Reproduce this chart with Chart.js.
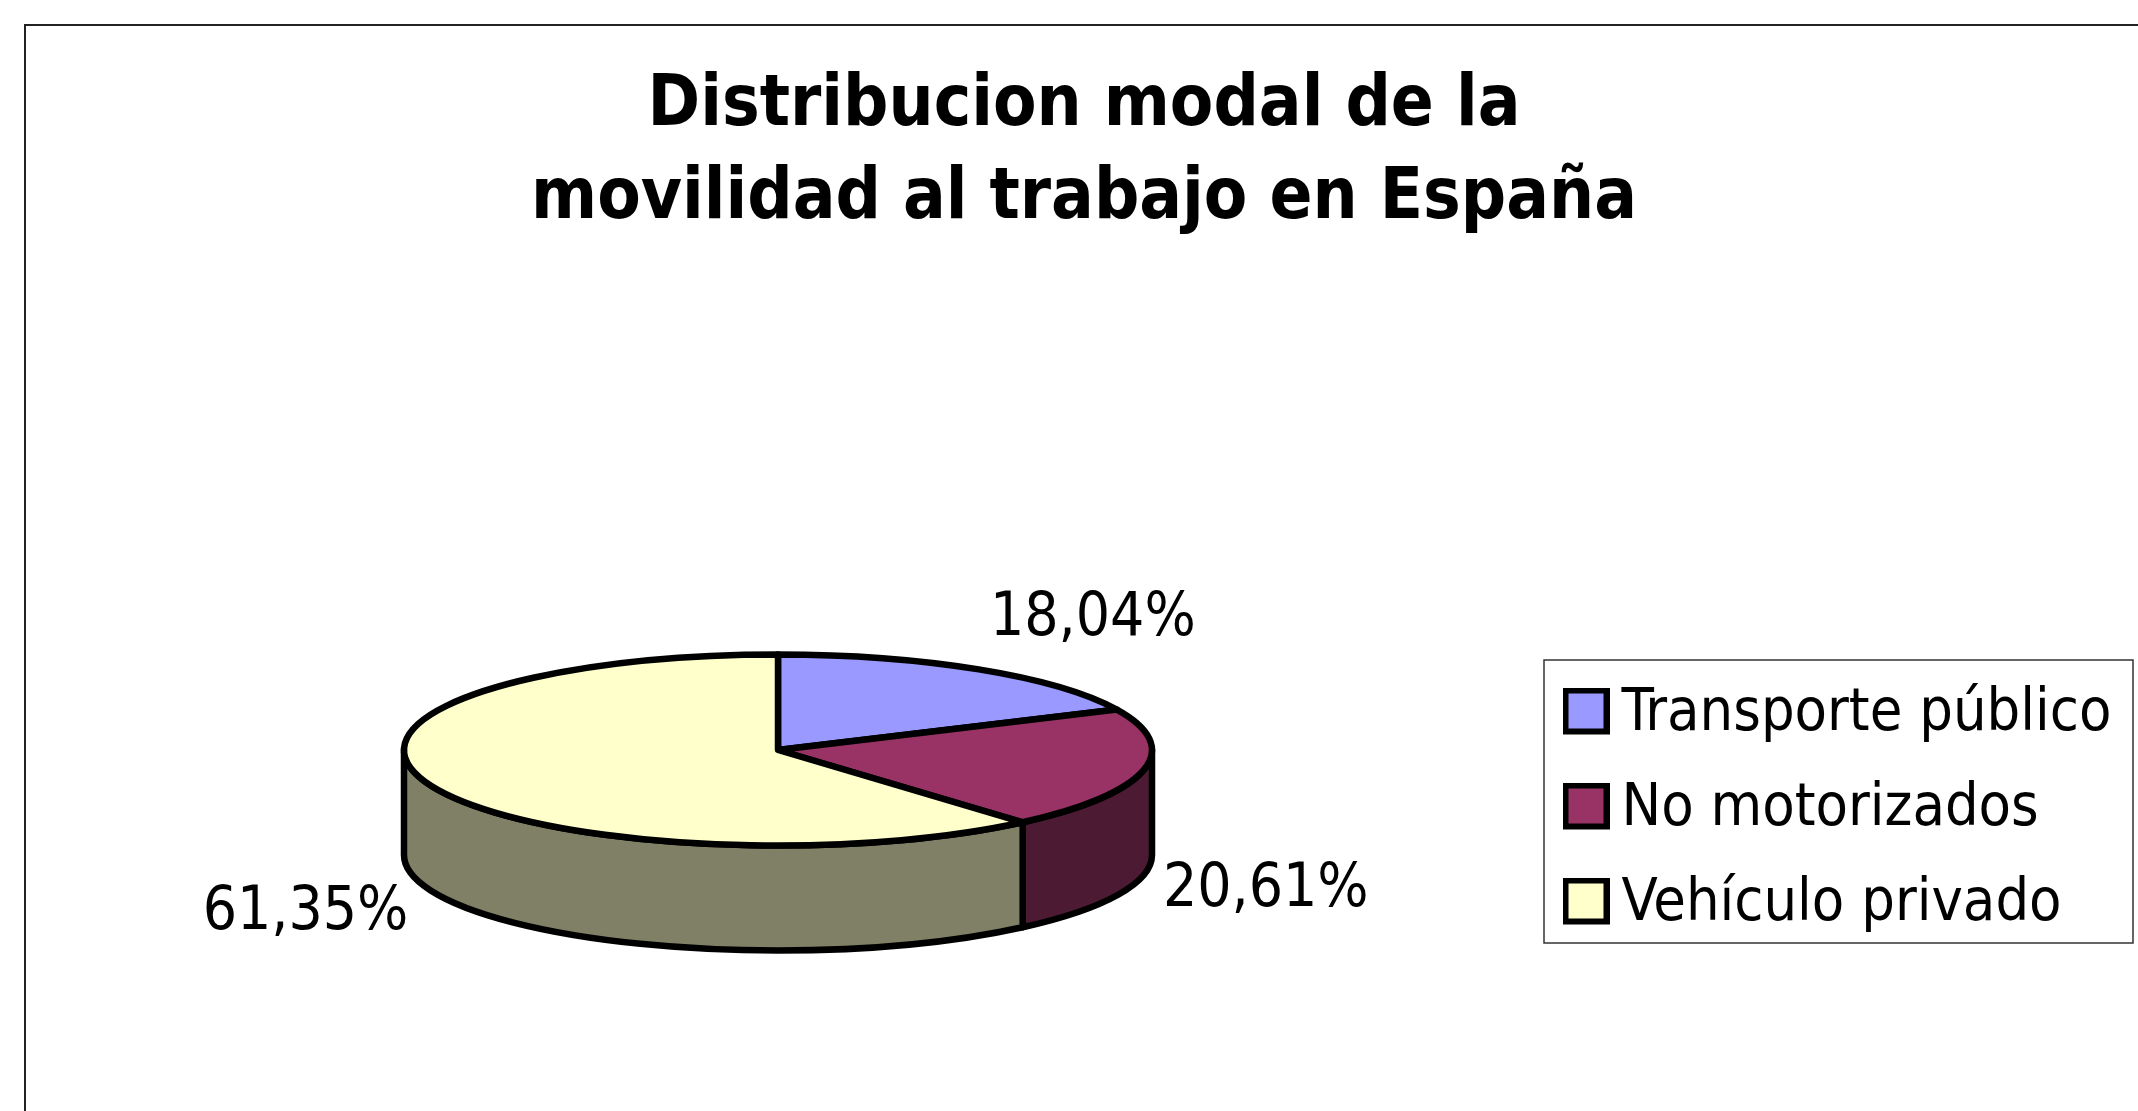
<!DOCTYPE html>
<html>
<head>
<meta charset="utf-8">
<title>Distribucion modal</title>
<script src="https://cdn.jsdelivr.net/npm/chart.js@4"></script>
<style>
  html, body { margin: 0; padding: 0; background: #fff; overflow: hidden; }
  canvas { display: block; }
</style>
</head>
<body>
<canvas id="grafico" width="2138" height="1111"></canvas>
<script>
const categorias = ["Transporte público", "No motorizados", "Vehículo privado"];
const valores = [18.04, 20.61, 61.35];
const coloresCara = ["#9999FF", "#993366", "#FFFFCC"];
const coloresLado = ["#4D1A33", "#4D1A33", "#808066"];
const titulo = ["Distribucion modal de la", "movilidad al trabajo en España"];

const fuente = "'DejaVu Sans Condensed', 'DejaVu Sans', sans-serif";
const tamanoLeyenda = 59;
const tamanoEtiqueta = 60;
const grosorLinea = 6.5;
const paddingLeyenda = 36;

// Aplastado de la elipse y altura del cilindro
const aplastado = 0.2555;
const altura = 105;
// Desplazamiento de cada etiqueta respecto al borde de su porcion
const desplazamientos = [[114, -50], [122, 120], [-122, 130]];

// Cuadrito de la leyenda: borde negro grueso, mas ancho que el hueco que deja Chart.js.
// El lienzo es mas alto para subir el cuadrito respecto al texto.
function crearMarcador(color) {
  const lienzo = document.createElement("canvas");
  lienzo.width = 47;
  lienzo.height = 54;
  const c = lienzo.getContext("2d");
  c.fillStyle = color;
  c.strokeStyle = "#000";
  c.lineWidth = 6;
  c.fillRect(3, 3, 41, 41);
  c.strokeRect(3, 3, 41, 41);
  return lienzo;
}

const marcadores = coloresCara.map(crearMarcador);

// Coloca el area de la torta y la leyenda donde van en la figura
const colocar = {
  id: "colocar",
  afterLayout(chart) {
    chart.chartArea = { left: 578, right: 978, top: 550, bottom: 950, width: 400, height: 400 };
    const leyenda = chart.legend;
    leyenda.left = 1544;
    leyenda.top = 661 - paddingLeyenda + 24;
    leyenda.right = leyenda.left + leyenda.width;
    leyenda.bottom = leyenda.top + leyenda.height;
  },
  beforeDraw(chart) {
    const ctx = chart.ctx;
    ctx.save();
    ctx.fillStyle = "#fff";
    ctx.fillRect(0, 0, chart.width, chart.height);
    // Marco exterior, solo se ven los lados izquierdo y superior
    ctx.strokeStyle = "#222";
    ctx.lineWidth = 2;
    ctx.strokeRect(25, 25, 2300, 2300);
    ctx.restore();
  },
  afterDraw(chart) {
    const ctx = chart.ctx;
    ctx.save();
    ctx.strokeStyle = "#333";
    ctx.lineWidth = 1.5;
    ctx.strokeRect(1544, 660, 589, 283);
    ctx.restore();
  },
};

// Dibuja la torta en 3D con los angulos que calcula Chart.js
const torta3d = {
  id: "torta3d",
  beforeDatasetsDraw(chart) {
    const ctx = chart.ctx;
    const arcos = chart.getDatasetMeta(0).data;

    ctx.save();
    ctx.lineJoin = "round";
    ctx.lineWidth = grosorLinea;
    ctx.strokeStyle = "#000";

    // Lados: solo la parte delantera, entre 0 y PI
    arcos.forEach((arco, i) => {
      const { x, y, startAngle, endAngle, outerRadius } = arco.getProps(["x", "y", "startAngle", "endAngle", "outerRadius"]);
      const ry = outerRadius * aplastado;
      const desde = Math.max(startAngle, 0);
      const hasta = Math.min(endAngle, Math.PI);
      if (hasta <= desde) return;
      ctx.beginPath();
      ctx.ellipse(x, y, outerRadius, ry, 0, desde, hasta);
      ctx.ellipse(x, y + altura, outerRadius, ry, 0, hasta, desde, true);
      ctx.closePath();
      ctx.fillStyle = coloresLado[i];
      ctx.fill();
      ctx.stroke();
    });

    // Cara superior
    arcos.forEach((arco, i) => {
      const { x, y, startAngle, endAngle, outerRadius } = arco.getProps(["x", "y", "startAngle", "endAngle", "outerRadius"]);
      ctx.beginPath();
      ctx.moveTo(x, y);
      ctx.ellipse(x, y, outerRadius, outerRadius * aplastado, 0, startAngle, endAngle);
      ctx.closePath();
      ctx.fillStyle = coloresCara[i];
      ctx.fill();
      ctx.stroke();
    });

    // Etiquetas de porcentaje
    ctx.fillStyle = "#000";
    ctx.font = tamanoEtiqueta + "px " + fuente;
    ctx.textAlign = "center";
    ctx.textBaseline = "middle";
    arcos.forEach((arco, i) => {
      const { x, y, startAngle, endAngle, outerRadius } = arco.getProps(["x", "y", "startAngle", "endAngle", "outerRadius"]);
      const medio = (startAngle + endAngle) / 2;
      const px = x + Math.cos(medio) * outerRadius + desplazamientos[i][0];
      const py = y + Math.sin(medio) * outerRadius * aplastado + desplazamientos[i][1];
      ctx.fillText(valores[i].toFixed(2).replace(".", ",") + "%", px, py);
    });
    ctx.restore();
    return false;
  },
};

new Chart(document.getElementById("grafico"), {
  type: "pie",
  data: {
    labels: categorias,
    datasets: [
      {
        data: valores,
        backgroundColor: coloresCara,
        borderColor: "#000",
        borderWidth: grosorLinea,
        radius: 374,
      },
    ],
  },
  options: {
    responsive: false,
    animation: false,
    layout: { padding: { left: 30 } },
    plugins: {
      title: {
        display: true,
        text: titulo,
        color: "#000",
        font: { family: fuente, size: 70.5, weight: "bold", lineHeight: 1.32 },
        padding: { top: 60, bottom: 0 },
      },
      legend: {
        position: "chartArea",
        align: "start",
        labels: {
          color: "#000",
          font: { family: fuente, size: tamanoLeyenda },
          usePointStyle: true,
          pointStyleWidth: 12,
          padding: paddingLeyenda,
          generateLabels(chart) {
            const items = Chart.overrides.pie.plugins.legend.labels.generateLabels(chart);
            items.forEach((item, i) => {
              item.pointStyle = marcadores[i];
            });
            return items;
          },
        },
      },
      tooltip: { enabled: false },
    },
  },
  plugins: [colocar, torta3d],
});
</script>
</body>
</html>
